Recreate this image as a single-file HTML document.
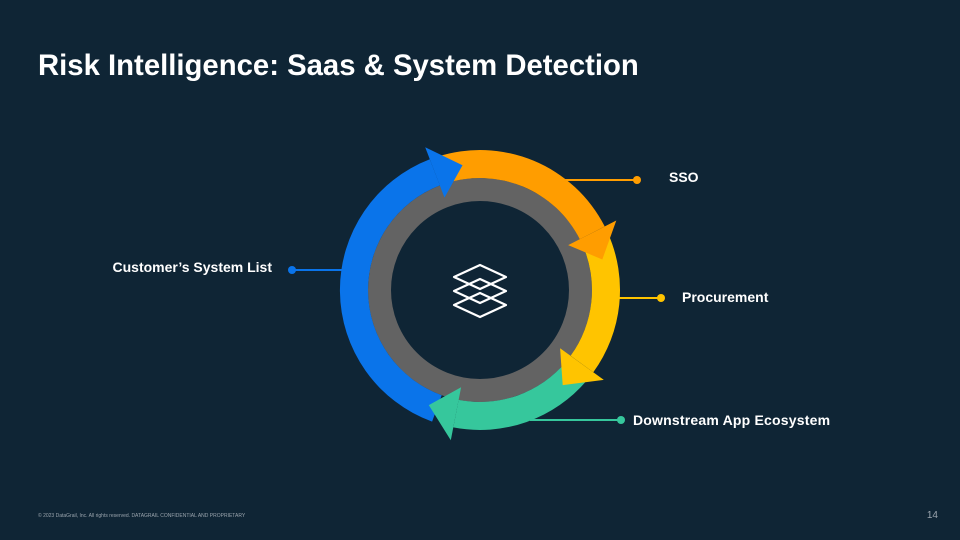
<!DOCTYPE html>
<html><head><meta charset="utf-8"><style>
body{margin:0;background:#0f2535;}
svg{display:block}
text{font-family:"Liberation Sans",sans-serif;}
</style></head><body>
<svg width="960" height="540" viewBox="0 0 960 540" xmlns="http://www.w3.org/2000/svg">
<rect width="960" height="540" fill="#0f2535"/>
<text x="38" y="75" fill="#fff" font-size="29.3" font-weight="bold">Risk Intelligence: Saas &amp; System Detection</text>
<line x1="560" y1="180" x2="637" y2="180" stroke="#ff9d00" stroke-width="2"/><circle cx="637" cy="180" r="4" fill="#ff9d00"/>
<line x1="615" y1="298" x2="661" y2="298" stroke="#ffc400" stroke-width="2"/><circle cx="661" cy="298" r="4" fill="#ffc400"/>
<line x1="530" y1="420" x2="621" y2="420" stroke="#36c79c" stroke-width="2"/><circle cx="621" cy="420" r="4" fill="#36c79c"/>
<line x1="292" y1="270" x2="345" y2="270" stroke="#0a74ea" stroke-width="2"/><circle cx="292" cy="270" r="4" fill="#0a74ea"/>
<text x="669" y="182" fill="#fff" font-size="14" font-weight="bold">SSO</text>
<text x="682" y="302" fill="#fff" font-size="14" font-weight="bold">Procurement</text>
<text x="633" y="425" fill="#fff" font-size="14" font-weight="bold" letter-spacing="0.2">Downstream App Ecosystem</text>
<text x="272" y="272" fill="#fff" font-size="14" font-weight="bold" text-anchor="end">Customer’s System List</text>
<circle cx="480" cy="290" r="100.5" fill="none" stroke="#636363" stroke-width="23"/>
<g id="arrows"></g>
<g fill="none" stroke="#fff" stroke-width="2.2" stroke-linejoin="round">
<path d="M480 265 L506 277 L480 289 L454 277 Z"/>
<path d="M480 279 L506 291 L480 303 L454 291 Z"/>
<path d="M480 293 L506 305 L480 317 L454 305 Z"/>
</g>
<text x="38" y="517" fill="#9aa4ad" font-size="5">© 2023 DataGrail, Inc. All rights reserved. DATAGRAIL CONFIDENTIAL AND PROPRIETARY</text>
<text x="938" y="518" fill="#9aa4ad" font-size="10" text-anchor="end">14</text>
</svg>
<script>
(function(){
var cx=480,cy=290,g=document.getElementById('arrows'),ns='http://www.w3.org/2000/svg';
function p(r,a){a=a*Math.PI/180;return (cx+r*Math.cos(a)).toFixed(1)+' '+(cy+r*Math.sin(a)).toFixed(1);}
var arrows=[['#0a74ea',110,262],['#ff9d00',252,346],['#ffc400',336,409],['#36c79c',40,114]];
var heads=[];
arrows.forEach(function(a){
 var s=a[1],t=a[2],b=t-13;
 var d='M'+p(140,s)+' A140 140 0 0 1 '+p(140,b)+' L'+p(112,b)+' A112 112 0 0 0 '+p(112,s)+' Z';
 var e=document.createElementNS(ns,'path');e.setAttribute('d',d);e.setAttribute('fill',a[0]);g.appendChild(e);
 heads.push(['M'+p(99,b)+' L'+p(153,b)+' L'+p(126,t)+' Z',a[0]]);
});
heads.forEach(function(h){var e=document.createElementNS(ns,'path');e.setAttribute('d',h[0]);e.setAttribute('fill',h[1]);g.appendChild(e);});
})();
</script>
</body></html>
